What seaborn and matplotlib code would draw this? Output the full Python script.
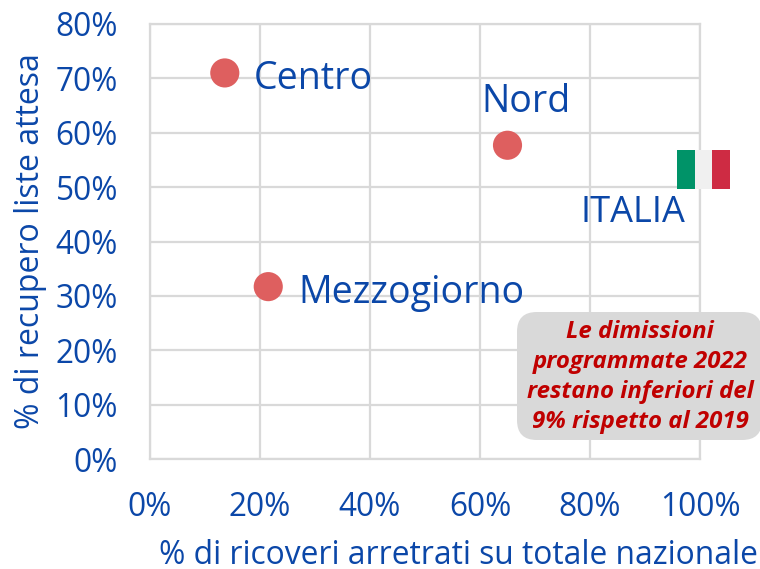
import matplotlib
matplotlib.use("Agg")
import matplotlib.pyplot as plt
import pandas as pd
import seaborn as sns
from matplotlib.patches import FancyBboxPatch, Rectangle

# ---- Data
areas = ["Centro", "Nord", "Mezzogiorno"]
share_backlog = [13.6, 65.0, 21.5]
share_recovered = [71.0, 57.7, 31.7]
italy_x = 100.6
italy_y = 53.2
flag_colors = ["#009368", "#f0f0f0", "#ce2b43"]
x_ticks = [0, 20, 40, 60, 80, 100]
y_ticks = [0, 10, 20, 30, 40, 50, 60, 70, 80]

BLUE = "#0b47a8"
GRID = "#d9d9d9"
RED = "#de5f5f"

sns.set_theme(style="whitegrid")
plt.rcParams["font.family"] = ["Open Sans", "DejaVu Sans"]

df = pd.DataFrame({"area": areas, "x": share_backlog, "y": share_recovered})

fig = plt.figure(figsize=(7.6, 5.69), dpi=100)
ax = fig.add_axes([150 / 760, 1 - 459 / 569, (700 - 150) / 760, (459 - 24) / 569])

sns.scatterplot(data=df, x="x", y="y", s=440, color=RED, edgecolor="none", ax=ax,
                clip_on=False, zorder=3)

ax.set_xlim(0, 100)
ax.set_ylim(0, 80)
ax.set_xticks(x_ticks)
ax.set_yticks(y_ticks)
ax.set_xticklabels([f"{v}%" for v in x_ticks])
ax.set_yticklabels([f"{v}%" for v in y_ticks])
ax.tick_params(axis="both", labelsize=22.8, labelcolor=BLUE, length=0)
ax.tick_params(axis="x", pad=23)
ax.tick_params(axis="y", pad=23)
ax.grid(True, color=GRID, linewidth=1.6)
for side in ["top", "right", "left", "bottom"]:
    ax.spines[side].set_visible(True)
    ax.spines[side].set_color(GRID)
    ax.spines[side].set_linewidth(1.6)

ax.set_xlabel("")
ax.set_ylabel("")
fig.text(458 / 760, 1 - 556 / 569, "% di ricoveri arretrati su totale nazionale",
         fontsize=22.9, color=BLUE, ha="center", va="center")
fig.text(31 / 760, 1 - 241 / 569, "% di recupero liste attesa", fontsize=23,
         color=BLUE, rotation=90, ha="center", va="center")

# Labels next to the dots
ax.annotate("Centro", (13.6, 71), xytext=(29, -6), textcoords="offset pixels",
            fontsize=27, color=BLUE, va="center")
ax.annotate("Nord", (65, 57.7), xytext=(-26, 43), textcoords="offset pixels",
            fontsize=27, color=BLUE, va="center")
ax.annotate("Mezzogiorno", (21.5, 31.7), xytext=(30, -6), textcoords="offset pixels",
            fontsize=27, color=BLUE, va="center")

# Italian flag marker at the national point
flag_w = 9.6 / 3
flag_h = 7.2
for i, c in enumerate(flag_colors):
    ax.add_patch(Rectangle((italy_x - 1.5 * flag_w + i * flag_w, italy_y - flag_h / 2),
                           flag_w, flag_h, facecolor=c, edgecolor="none",
                           clip_on=False, zorder=4))
# annotation_clip off because the flag's centre sits just past the right spine
ax.annotate("ITALIA", (italy_x, italy_y), xytext=(-70, -43), textcoords="offset pixels",
            fontsize=26, color=BLUE, ha="center", va="center", annotation_clip=False)

# Callout box
box = FancyBboxPatch((517 / 760, 1 - 440 / 569), (762 - 517) / 760, (440 - 312) / 569,
                     boxstyle="round,pad=0,rounding_size=0.026", transform=fig.transFigure,
                     facecolor="#d9d9d9", edgecolor="none", mutation_aspect=760 / 569, zorder=5)
fig.add_artist(box)
fig.text(640 / 760, 1 - 377 / 569,
         "Le dimissioni\nprogrammate 2022\nrestano inferiori del\n9% rispetto al 2019",
         fontsize=17.3, color="#c00000", fontweight="bold", fontstyle="italic",
         ha="center", va="center", linespacing=1.34, zorder=6)

fig.savefig("out.png", dpi=100)
